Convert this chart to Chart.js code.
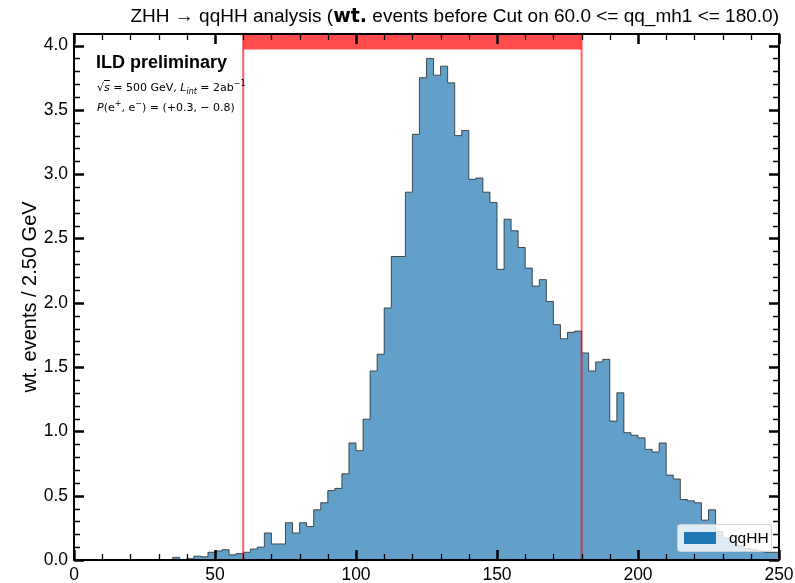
<!DOCTYPE html>
<html><head><meta charset="utf-8">
<script src="https://cdn.jsdelivr.net/npm/chart.js@4.4.1/dist/chart.umd.min.js"></script>
<style>
html,body{margin:0;padding:0;background:#fff;}
#wrap{position:relative;width:795px;height:583px;overflow:hidden;}
canvas{position:absolute;left:0;top:0;}
.t{position:absolute;color:#000;white-space:nowrap;font-family:"Liberation Sans",Arial,sans-serif;}
.m{font-family:"DejaVu Sans",sans-serif;font-size:11px;}
.m i{font-style:italic;}
#legend{position:absolute;left:677px;top:524px;width:95px;height:28px;box-sizing:border-box;border:1px solid rgba(200,200,200,0.8);border-radius:4px;background:rgba(255,255,255,0.8);}
#legend .sw{position:absolute;left:6px;top:7px;width:32px;height:12px;background:#1f77b4;}
#legend .lb{position:absolute;left:51px;top:4px;font-family:"Liberation Sans",Arial,sans-serif;font-size:15.5px;}
</style></head><body>
<div id="wrap">
<canvas id="c" width="795" height="583"></canvas>
<div class="t" id="title" style="right:16px;top:4px;font-size:19px;">ZHH → qqHH analysis (<b style="font-family:'DejaVu Sans',sans-serif;">wt.</b> events before Cut on 60.0 &lt;= qq_mh1 &lt;= 180.0)</div>
<div class="t" style="left:96px;top:52px;font-size:18px;font-weight:bold;">ILD preliminary</div>
<div class="t m" style="left:97px;top:79px;">√<span style="text-decoration:overline"><i>s</i></span> = 500 GeV, <i>L</i><sub style="font-size:8px"><i>int</i></sub> = 2ab<sup style="font-size:8px">−1</sup></div>
<div class="t m" style="left:97px;top:99px;"><i>P</i>(e<sup style="font-size:8px">+</sup>, e<sup style="font-size:8px">−</sup>) = (+0.3, − 0.8)</div>
<div id="legend"><div class="sw"></div><div class="lb">qqHH</div></div>
</div>
<script>
// ---- data ----
const binWidth = 2.5;
const binEdges = Array.from({length: 101}, (_, i) => i * binWidth); // 0 .. 250
const qqHH = [
  0,0,0,0,0,0,0,0,0,0,
  0,0,0,0,0.02,0,0.01,0.03,0.025,0.06,
  0.07,0.08,0.04,0.05,0.06,0.085,0.10,0.21,0.125,0.125,
  0.29,0.21,0.29,0.26,0.39,0.445,0.54,0.557,0.67,0.91,
  0.85,1.095,1.47,1.60,1.96,2.36,2.36,2.86,3.31,3.75,
  3.90,3.77,3.84,3.71,3.30,3.34,2.96,2.97,2.86,2.78,
  2.26,2.65,2.56,2.43,2.27,2.13,2.18,2.01,1.83,1.72,
  1.77,1.78,1.61,1.47,1.54,1.56,1.08,1.30,0.99,0.97,
  0.95,0.86,0.84,0.91,0.66,0.63,0.47,0.46,0.445,0.31,
  0.39,0.22,0.17,0.14,0.11,0.09,0.08,0.07,0.06,0.06
];
const cutLow = 60, cutHigh = 180;
const bandBottom = 3.97;
const xTickLabels = [0, 50, 100, 150, 200, 250];
const yMax = 4.09;

// ---- build ----
const histPts = binEdges.map((x, i) => ({x, y: i < qqHH.length ? qqHH[i] : qqHH[qqHH.length - 1]}));
histPts.push({x: binEdges[binEdges.length - 1], y: 0});

const frameTicks = {
  id: 'frameTicks',
  afterDatasetsDraw(chart) {
    const {ctx, chartArea: a, scales: {x, y}} = chart;
    ctx.save();
    ctx.strokeStyle = '#000';
    for (let k = 0; k <= 40; k++) {
      const v = k / 10, major = k % 5 === 0;
      const py = Math.round(y.getPixelForValue(v)) + 0.5;
      const len = major ? 10 : 6;
      ctx.lineWidth = major ? 2.5 : 1.3;
      ctx.beginPath();
      ctx.moveTo(a.left, py); ctx.lineTo(a.left + len, py);
      ctx.moveTo(a.right, py); ctx.lineTo(a.right - len, py);
      ctx.stroke();
    }
    for (let k = 0; k <= 25; k++) {
      const v = k * 10, major = k % 5 === 0;
      const px = Math.round(x.getPixelForValue(v)) + 0.5;
      const len = major ? 10 : 6;
      ctx.lineWidth = major ? 2.5 : 1.3;
      ctx.beginPath();
      ctx.moveTo(px, a.bottom); ctx.lineTo(px, a.bottom - len);
      ctx.moveTo(px, a.top); ctx.lineTo(px, a.top + len);
      ctx.stroke();
    }
    ctx.lineWidth = 2;
    ctx.strokeRect(a.left, a.top, a.right - a.left, a.bottom - a.top);
    ctx.restore();
  }
};

new Chart(document.getElementById('c'), {
  type: 'line',
  data: {
    datasets: [
      {label: 'cutLow', data: [{x: cutLow, y: 0}, {x: cutLow, y: yMax}], borderColor: 'rgba(255,0,0,0.6)', borderWidth: 2, pointRadius: 0, fill: false, order: 0},
      {label: 'cutHigh', data: [{x: cutHigh, y: 0}, {x: cutHigh, y: yMax}], borderColor: 'rgba(255,0,0,0.6)', borderWidth: 2, pointRadius: 0, fill: false, order: 0},
      {label: 'band', data: [{x: cutLow, y: yMax}, {x: cutHigh, y: yMax}], borderWidth: 0, pointRadius: 0, backgroundColor: 'rgba(255,0,0,0.7)', fill: {value: bandBottom}, order: 1},
      {label: 'qqHH', data: histPts, stepped: true, fill: 'origin', backgroundColor: '#62a0ca', borderColor: 'rgba(30,30,30,0.75)', borderWidth: 1, pointRadius: 0, order: 2}
    ]
  },
  options: {
    responsive: false, animation: false, devicePixelRatio: 1,
    layout: {padding: {top: 34, right: 16, left: 0, bottom: 0}},
    plugins: {legend: {display: false}, tooltip: {enabled: false}},
    scales: {
      x: {
        type: 'linear', min: 0, max: 250,
        afterFit: s => { s.height = 23; s.paddingRight = 0; s.paddingLeft = 0; },
        grid: {display: false, drawTicks: false}, border: {display: false},
        ticks: {stepSize: 50, color: '#000', padding: 5, maxRotation: 0, font: {family: 'Liberation Sans, Arial, sans-serif', size: 17.5},
          callback: v => xTickLabels.includes(v) ? String(v) : ''}
      },
      y: {
        type: 'linear', min: 0, max: yMax,
        afterFit: s => { s.width = 74; },
        grid: {display: false, drawTicks: false}, border: {display: false},
        ticks: {stepSize: 0.5, includeBounds: false, color: '#000', padding: 6, font: {family: 'Liberation Sans, Arial, sans-serif', size: 17.5},
          callback: v => Number(v).toFixed(1)},
        title: {display: true, text: 'wt. events / 2.50 GeV', color: '#000', padding: {top: 18, bottom: 0}, font: {family: 'Liberation Sans, Arial, sans-serif', size: 20}}
      }
    }
  },
  plugins: [frameTicks]
});
</script>
</body></html>
